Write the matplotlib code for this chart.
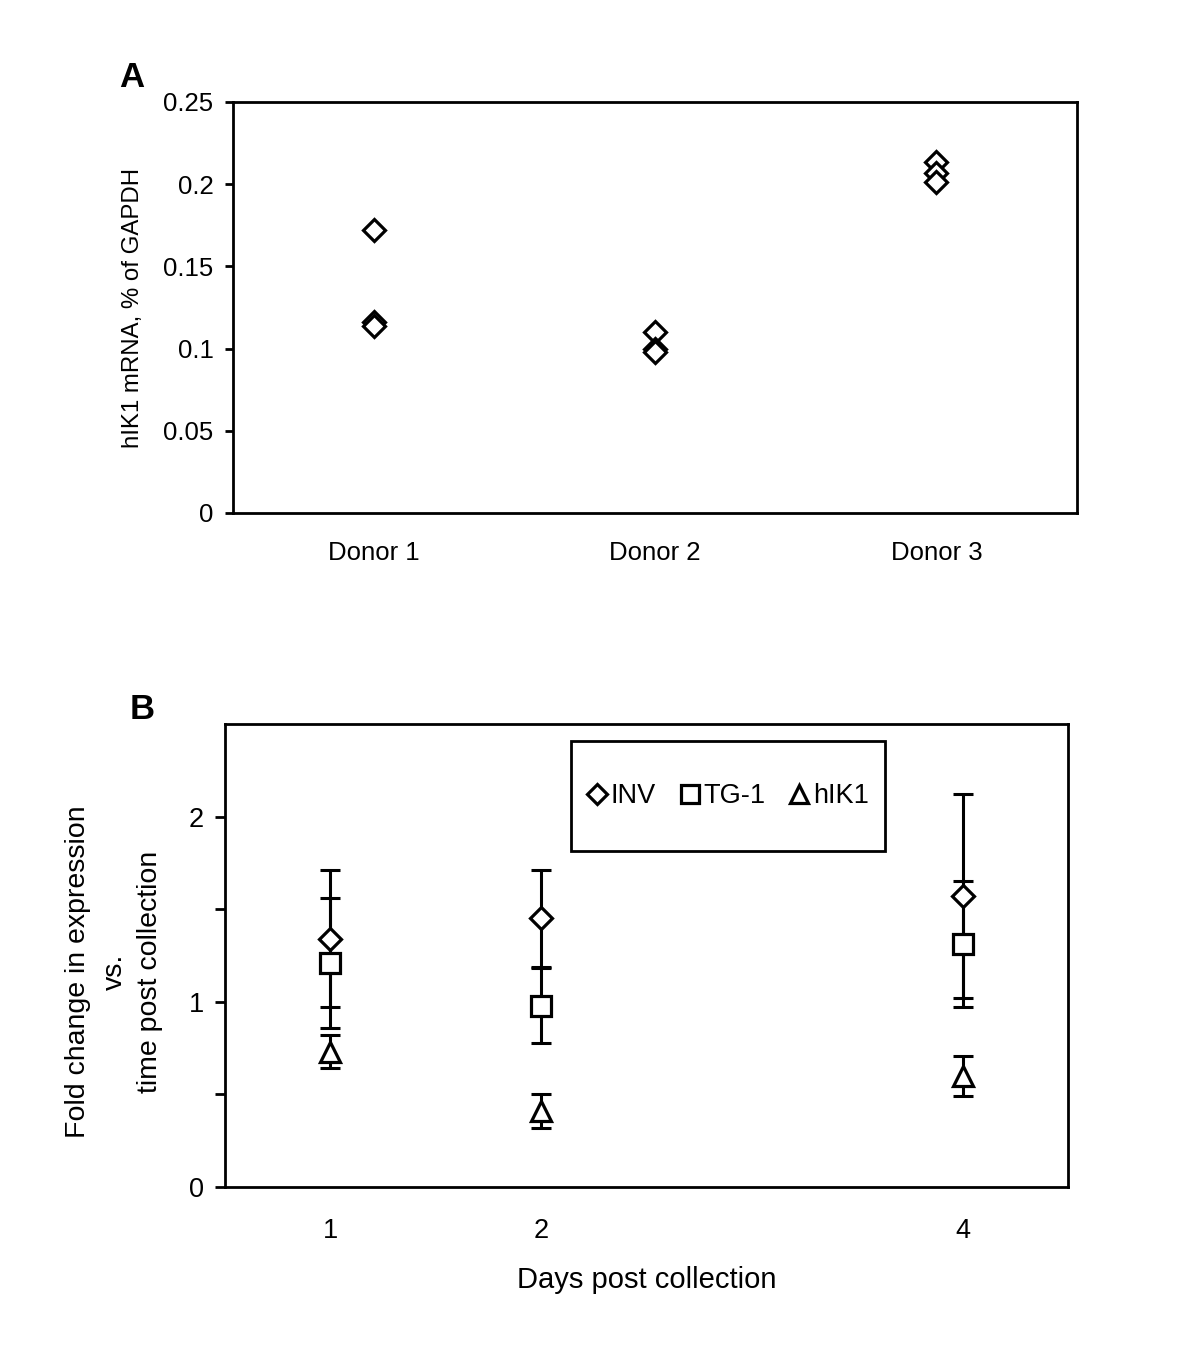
import numpy as np
import matplotlib
matplotlib.use("Agg")
import matplotlib.pyplot as plt
from matplotlib.lines import Line2D
from matplotlib.patches import Rectangle

plt.rcParams['font.family'] = ['Liberation Sans', 'DejaVu Sans']

# ---- panel A data
donors = ["Donor 1", "Donor 2", "Donor 3"]
donor1 = [0.172, 0.116, 0.114]
donor2 = [0.110, 0.0998, 0.0979]
donor3 = [0.2135, 0.2068, 0.2013]

# ---- panel B data
days = [1, 2, 4]
inv_mean = [1.34, 1.45, 1.57]
inv_err = [0.37, 0.26, 0.55]
tg1_mean = [1.21, 0.98, 1.31]
tg1_err = [0.35, 0.20, 0.34]
hik1_mean = [0.73, 0.41, 0.60]
hik1_err = [0.09, 0.09, 0.11]

fig = plt.figure(figsize=(11.97, 13.65), dpi=100)

lw = 2.0
tick_fs = 18.5

### panel A
axA = fig.add_axes([0.1947, 0.6242, 0.7051, 0.3011])
for i, vals in enumerate([donor1, donor2, donor3]):
    axA.plot([i + 1] * len(vals), vals, linestyle='none', marker='D', ms=11.5,
             mfc='white', mec='black', mew=2.3)
axA.set_xlim(0.5, 3.5)
axA.set_ylim(0, 0.25)
axA.set_yticks([0, 0.05, 0.1, 0.15, 0.2, 0.25])
axA.set_yticklabels(["0", "0.05", "0.1", "0.15", "0.2", "0.25"])
axA.set_xticks([1, 2, 3])
axA.set_xticklabels(donors)
axA.tick_params(axis='y', direction='out', length=6, width=lw, labelsize=tick_fs, pad=8)
axA.tick_params(axis='x', length=0, labelsize=tick_fs, pad=20)
axA.set_ylabel("hIK1 mRNA, % of GAPDH", fontsize=17.3, labelpad=14)
for s in axA.spines.values():
    s.set_linewidth(lw)

### panel B
axB = fig.add_axes([0.188, 0.1304, 0.7043, 0.3392])
series = [
    (inv_mean, inv_err, 'D', 11.5, "INV"),
    (tg1_mean, tg1_err, 's', 14.5, "TG-1"),
    (hik1_mean, hik1_err, '^', 15, "hIK1"),
]
handles = []
for mean, err, mk, ms, lab in series:
    axB.errorbar(days, mean, yerr=err, fmt='none', ecolor='black', elinewidth=2.2,
                 capsize=7.5, capthick=2.2, zorder=2)
    axB.plot(days, mean, linestyle='none', marker=mk, ms=ms, mfc='white',
             mec='black', mew=2.3, zorder=3)
    handles.append(Line2D([], [], linestyle='none', marker=mk, ms=ms * 0.88,
                          mfc='white', mec='black', mew=2.3, label=lab))
axB.set_xlim(0.5, 4.5)
axB.set_ylim(0, 2.5)
axB.set_xticks(days)
axB.set_xticklabels([str(d) for d in days])
axB.set_yticks([0, 0.5, 1, 1.5, 2])
axB.set_yticklabels(["0", "", "1", "", "2"])
axB.tick_params(axis='y', direction='out', length=7, width=lw, labelsize=tick_fs + 1, pad=8)
axB.tick_params(axis='x', length=0, labelsize=tick_fs + 1, pad=22)
axB.set_xlabel("Days post collection", fontsize=21, labelpad=16)
axB.set_ylabel("Fold change in expression\nvs.\ntime post collection", fontsize=20.5,
               linespacing=1.5)
axB.yaxis.set_label_coords(-0.073, 0.465)
for s in axB.spines.values():
    s.set_linewidth(lw)

# legend box is wider/taller than its contents, so draw the frame separately
axB.add_patch(Rectangle((0.4104, 0.7257), 0.3726, 0.2376, transform=axB.transAxes,
                        fill=False, edgecolor='black', linewidth=lw, zorder=4))
axB.legend(handles=handles, loc='center', bbox_to_anchor=(0.5967, 0.8445),
           ncol=3, frameon=False, fontsize=19.5, handlelength=0.7,
           handletextpad=0.15, columnspacing=0.9, borderpad=0, borderaxespad=0)

fig.text(0.110, 0.943, "A", fontsize=25, fontweight='bold', va='center', ha='center')
fig.text(0.119, 0.480, "B", fontsize=25, fontweight='bold', va='center', ha='center')

fig.savefig("out.png", dpi=100)
